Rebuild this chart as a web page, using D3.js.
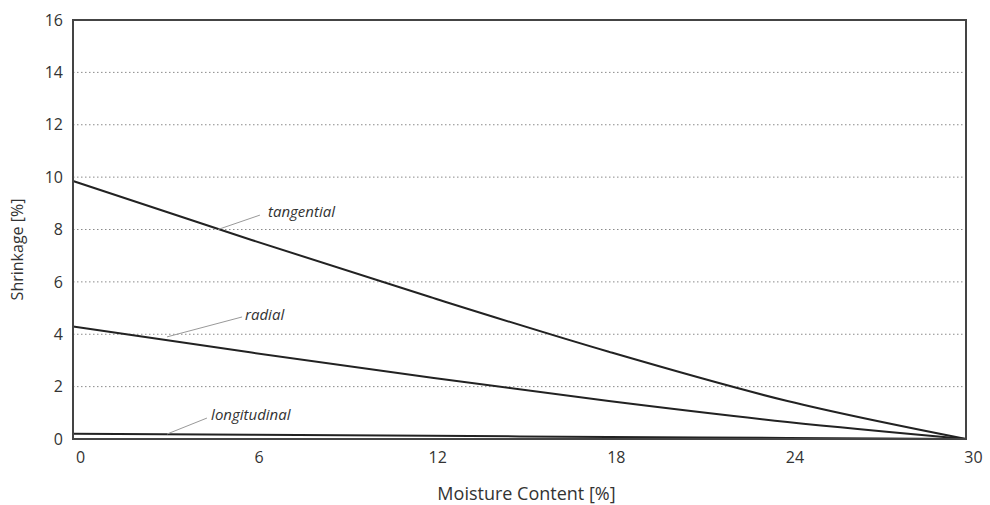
<!DOCTYPE html>
<html>
<head>
<meta charset="utf-8">
<script src="https://cdn.jsdelivr.net/npm/d3@7"></script>
<style>
  body { margin: 0; background: #fff; }
  svg { display: block; font-family: "Open Sans", sans-serif; }
</style>
</head>
<body>
<svg id="chart" width="990" height="505"></svg>
<script>
// moisture content (%) and shrinkage (%)
const moisture = [0, 6, 12, 18, 24, 30];
const tangential = [9.85, 7.6, 5.42, 3.33, 1.45, 0];
const radial = [4.3, 3.3, 2.35, 1.45, 0.65, 0];
const longitudinal = [0.2, 0.16, 0.12, 0.08, 0.04, 0];

const xTicks = [0, 6, 12, 18, 24, 30];
const yTicks = [0, 2, 4, 6, 8, 10, 12, 14, 16];

// label: anchor on curve, leader end, text start (all in data units)
const labelNames = ["tangential", "radial", "longitudinal"];
const labelAnchor = [[4.87, 8.0], [3.16, 3.9], [3.16, 0.19]];
const labelLeaderEnd = [[6.28, 8.55], [5.68, 4.66], [4.5, 0.8]];
const labelText = [[6.55, 8.47], [5.78, 4.54], [4.64, 0.73]];

const svg = d3.select("#chart");
const margin = { top: 20, right: 24, bottom: 66, left: 73 };
const width = 990 - margin.left - margin.right;
const height = 505 - margin.top - margin.bottom;

const x = d3.scaleLinear().domain([0, 30]).range([0, width]);
const y = d3.scaleLinear().domain([0, 16]).range([height, 0]);

const g = svg.append("g").attr("transform", `translate(${margin.left},${margin.top})`);

// dotted grid
g.append("g")
  .selectAll("line")
  .data(yTicks.filter(d => d > 0 && d < 16))
  .join("line")
  .attr("x1", 0).attr("x2", width)
  .attr("y1", d => y(d)).attr("y2", d => y(d))
  .attr("stroke", "#8a8a8a")
  .attr("stroke-width", 1)
  .attr("stroke-dasharray", "1.5,2.5");

// axes (labels only)
const xAxis = g.append("g")
  .attr("transform", `translate(0,${height})`)
  .call(d3.axisBottom(x).tickValues(xTicks).tickSize(0).tickPadding(13));
xAxis.select(".domain").remove();
xAxis.selectAll("text")
  .attr("dx", 7)
  .attr("font-size", 16)
  .attr("font-family", "Open Sans, sans-serif")
  .attr("fill", "#333");

const yAxis = g.append("g")
  .call(d3.axisLeft(y).tickValues(yTicks).tickSize(0).tickPadding(10));
yAxis.select(".domain").remove();
yAxis.selectAll("text")
  .attr("font-size", 16)
  .attr("font-family", "Open Sans, sans-serif")
  .attr("fill", "#333");

// series
const line = d3.line()
  .x((d, i) => x(moisture[i]))
  .y(d => y(d))
  .curve(d3.curveMonotoneX);

[tangential, radial, longitudinal].forEach(s => {
  g.append("path")
    .datum(s)
    .attr("fill", "none")
    .attr("stroke", "#222")
    .attr("stroke-width", 2)
    .attr("d", line);
});

// leaders and labels
labelNames.forEach((name, i) => {
  g.append("line")
    .attr("x1", x(labelAnchor[i][0])).attr("y1", y(labelAnchor[i][1]))
    .attr("x2", x(labelLeaderEnd[i][0])).attr("y2", y(labelLeaderEnd[i][1]))
    .attr("stroke", "#999")
    .attr("stroke-width", 1);
  g.append("text")
    .attr("x", x(labelText[i][0]))
    .attr("y", y(labelText[i][1]))
    .attr("font-size", 15)
    .attr("font-style", "italic")
    .attr("fill", "#333")
    .text(name);
});

// frame
g.append("rect")
  .attr("x", 0).attr("y", 0)
  .attr("width", width).attr("height", height)
  .attr("fill", "none")
  .attr("stroke", "#444")
  .attr("stroke-width", 2);

// axis titles
svg.append("text")
  .attr("x", margin.left + width / 2 + 7)
  .attr("y", 500)
  .attr("text-anchor", "middle")
  .attr("font-size", 18)
  .attr("fill", "#333")
  .text("Moisture Content [%]");

svg.append("text")
  .attr("transform", `translate(23,${margin.top + height / 2 + 20}) rotate(-90)`)
  .attr("text-anchor", "middle")
  .attr("font-size", 16)
  .attr("fill", "#333")
  .text("Shrinkage [%]");
</script>
</body>
</html>
